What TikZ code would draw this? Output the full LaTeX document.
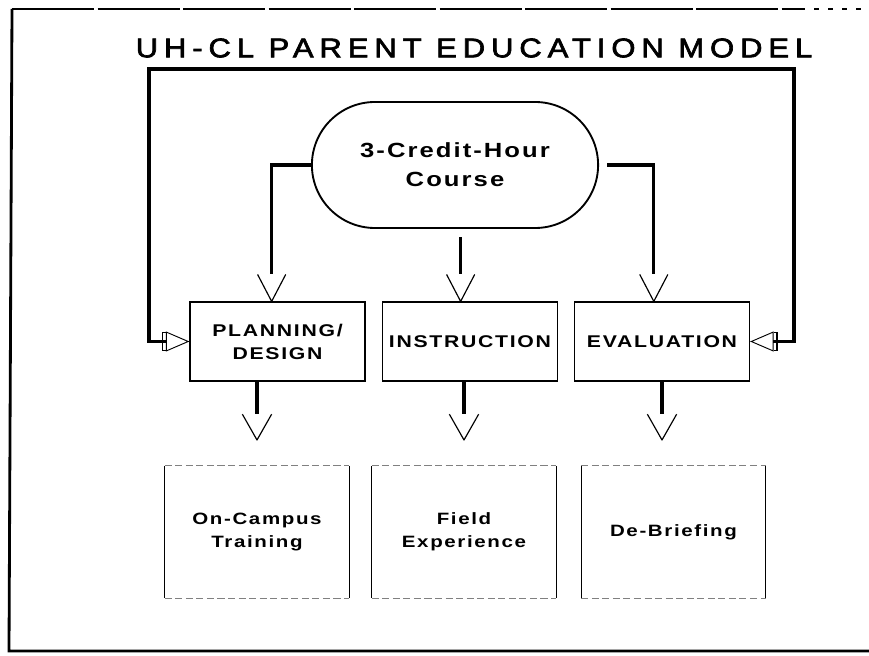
\documentclass[tikz,border=0pt]{standalone}
\usepackage{fontspec}
\usetikzlibrary{arrows.meta,shapes.misc}
\newfontfamily\titlefont[FakeStretch=1.15,LetterSpace=22,FakeBold=2.5]{Liberation Sans}
\newfontfamily\labelfont[FakeStretch=1.25,LetterSpace=10]{Liberation Sans}

% open chevron head, the shaft stops at its back
\pgfdeclarearrow{
  name = Chevron,
  parameters = {\the\pgfarrowlength,\the\pgfarrowwidth,\the\pgfarrowlinewidth},
  setup code = {
    \pgfarrowssettipend{0pt}
    \pgfarrowssetlineend{-\pgfarrowlength}
    \pgfarrowssetbackend{-\pgfarrowlength}
    \pgfarrowshullpoint{0pt}{0pt}
    \pgfarrowshullpoint{-\pgfarrowlength}{.5\pgfarrowwidth}
    \pgfarrowshullpoint{-\pgfarrowlength}{-.5\pgfarrowwidth}
    \pgfarrowssavethe\pgfarrowlength
    \pgfarrowssavethe\pgfarrowwidth
    \pgfarrowssavethe\pgfarrowlinewidth
  },
  drawing code = {
    \pgfsetlinewidth{\pgfarrowlinewidth}
    \pgfsetroundjoin
    \pgfpathmoveto{\pgfqpoint{-\pgfarrowlength}{.5\pgfarrowwidth}}
    \pgfpathlineto{\pgfpointorigin}
    \pgfpathlineto{\pgfqpoint{-\pgfarrowlength}{-.5\pgfarrowwidth}}
    \pgfusepathqstroke
  },
  defaults = {length=23pt, width=24pt}
}

\tikzset{
  course/.style={rounded rectangle, draw, line width=1.6pt, minimum width=8.82cm,
    minimum height=3.78cm, align=center,
    font=\labelfont\bfseries\fontsize{17.5}{24.8}\selectfont},
  stage/.style={rectangle, draw, line width=1pt, minimum width=5.25cm,
    minimum height=2.37cm, align=center,
    font=\labelfont\bfseries\fontsize{14.5}{19.6}\selectfont},
  outcome/.style={rectangle, minimum width=5.52cm, minimum height=3.96cm, align=center,
    font=\labelfont\bfseries\fontsize{14}{19.2}\selectfont},
  flow/.style={line width=2.8pt, -{Chevron[length=23pt,width=24pt,line width=1pt]}},
  drop/.style={line width=3.6pt, shorten >=22pt, -{Chevron[length=22pt,width=25pt,line width=1pt]}},
  loopline/.style={line width=2.8pt,
    {Triangle[open,length=20pt,width=17pt,line width=0.8pt] Bracket[reversed,width=17pt,length=3pt,line width=1.1pt]}-{Bracket[reversed,width=17pt,length=3pt,line width=1.1pt] Triangle[open,length=20pt,width=17pt,line width=0.8pt]}},
  frame/.style={line width=2.4pt}
}

\begin{document}
\begin{tikzpicture}[x=0.03cm,y=-0.03cm]
  \useasboundingbox (0,0) rectangle (869,656);
  % page frame
  \draw[frame] (869,651) -- (9,651) -- (12,9);
  \draw[frame, line width=1.5pt, dash pattern=on 70pt off 3pt] (12,9) -- (800,9);
  \draw[line width=1pt, dash pattern=on 4pt off 8pt] (800,9) -- (869,9);

  \node[font=\titlefont\fontsize{23}{27}\selectfont] (title) at (474,48) {UH-CL PARENT EDUCATION MODEL};

  \node[course] (course) at (455,165) {3-Credit-Hour\\Course};

  \node[stage] (plan) at (277.5,341.5) {PLANNING/\\DESIGN};
  \node[stage] (instr) at (470,341.5) {INSTRUCTION};
  \node[stage] (eval) at (662,341.5) {EVALUATION};

  \node[outcome] (train) at (257,532) {On-Campus\\Training};
  \node[outcome] (field) at (464,532) {Field\\Experience};
  \node[outcome] (brief) at (673.5,532) {De-Briefing};
  \foreach \n in {train,field,brief} {
    \draw[line width=1.2pt] (\n.north west) -- (\n.south west);
    \draw[line width=1.2pt] (\n.north east) -- (\n.south east);
    \draw[line width=0.6pt, gray, dash pattern=on 6pt off 3pt] (\n.north west) -- (\n.north east);
    \draw[line width=0.6pt, gray, dash pattern=on 6pt off 3pt] (\n.south west) -- (\n.south east);
  }

  % course feeds the three stages
  \draw[flow] (course.west) -| ([xshift=-5pt]plan.north);
  \draw[flow, shorten <=7pt] ([xshift=-8pt]instr.north |- course.south) -- ([xshift=-8pt]instr.north);
  \draw[flow, shorten <=7pt] (course.east) -| ([xshift=-7pt]eval.north);

  % stages lead to the field work
  \draw[drop] (plan.south -| train.north) -- (train.north);
  \draw[drop] (instr.south -| field.north) -- (field.north);
  \draw[drop] (eval.south) -- (eval.south |- brief.north);

  % feedback loop
  \coordinate (loopL) at (149,69);
  \coordinate (loopR) at (794,69);
  \draw[loopline] (plan.west) -| (loopL) -- (loopR) |- (eval.east);
\end{tikzpicture}
\end{document}
